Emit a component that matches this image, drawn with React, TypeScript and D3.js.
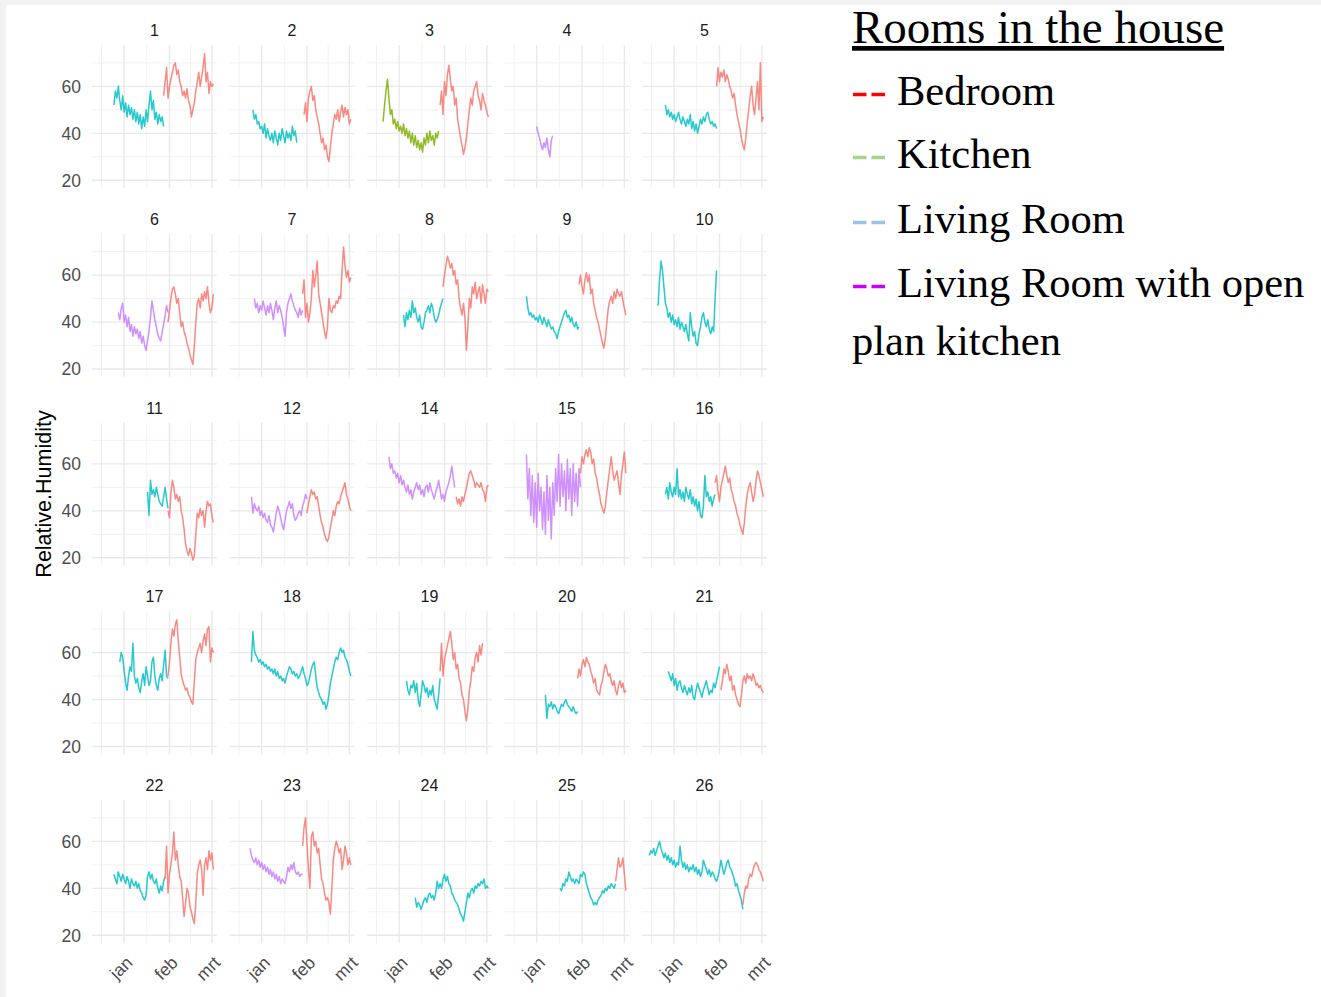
import React from "react";
import * as d3 from "d3";

// ---------- categories / labels ----------
const panelIds = ["1","2","3","4","5","6","7","8","9","10","11","12","14","15","16","17","18","19","20","21","22","23","24","25","26"];
const rooms = ["Bedroom", "Kitchen", "Living Room", "Living Room with open plan kitchen"];
const roomColors = ["#F8766D", "#7CAE00", "#00BFC4", "#C77CFF"];
const xTickLabels = ["jan", "feb", "mrt"];
const xTickDates = ["2020-01-01", "2020-02-01", "2020-03-01"];
const xMinorDates = ["2019-12-16T12:00", "2020-01-16T12:00", "2020-02-15T12:00"];
const xDomain = ["2019-12-10", "2020-03-04T12:00"];
const yTicks = [20, 40, 60];
const yMinorTicks = [30, 50, 70];
const yDomain = [16.6, 77.6];
const yTitle = "Relative.Humidity";
const legendTitle = "Rooms in the house";
const legendLines = ["Bedroom", "Kitchen", "Living Room", "Living Room with open"];
const legendWrap = "plan kitchen";
const legendColors = ["#ff0000", "#a9d18e", "#9dc3e6", "#cc00ff"];

// ---------- daily relative humidity series ----------
const p1LR = [52,58,55,60,54,50,56,49,53,47,52,48,51,46,50,45,49,44,48,42,47,43,50,45,52,58,50,54,46,49,44,48,45,47,43];
const p1BR = [56,62,68,55,60,63,66,69,70,65,67,62,60,56,58,55,59,54,52,47,50,53,58,62,66,60,64,68,74,62,66,57,62,60,61];
const p2LR = [50,46,48,44,45,42,43,40,44,38,42,39,37,40,36,41,38,35,40,37,42,39,36,41,38,40,37,43,39,41,36];
const p2BR = [48,53,45,55,58,60,54,56,50,47,44,40,36,38,33,35,30,28,34,40,44,48,46,50,45,49,52,47,51,48,50,44,46];
const p3K = [45,52,58,63,55,48,50,44,46,42,45,41,43,40,44,39,42,38,41,36,40,35,39,34,37,33,36,32,38,35,40,36,41,37,39,35,40,38,41];
const p3BR = [52,58,48,62,56,65,69,63,58,60,52,55,46,42,38,35,31,34,38,44,50,55,52,58,60,62,56,54,50,57,54,52,49,47];
const p4LRO = [43,40,38,35,33,36,34,38,33,30,37,39];
const p5LR = [52,48,50,47,49,46,48,45,47,49,46,44,47,45,43,46,44,48,42,45,41,44,40,43,46,44,47,45,48,49,46,44,45,43,44,42];
const p5BR = [60,68,62,66,64,67,62,65,63,60,58,55,57,52,48,45,42,38,35,33,38,45,50,56,60,52,48,55,62,50,70,45,47];
const p6LRO = [44,41,46,48,40,43,38,42,36,39,34,38,35,37,33,36,31,34,30,28,32,36,42,49,45,41,38,35,33,32,36,39,43,47,44];
const p6BR = [40,45,50,54,55,52,48,50,44,38,40,36,34,31,29,26,24,22,30,40,48,50,46,52,49,53,50,55,48,44,46,52];
const p7LRO = [50,46,48,44,47,45,49,46,43,47,44,48,45,41,46,49,44,47,45,42,38,34,44,48,50,52,49,47,45,44,42,46,43,45];
const p7BR = [52,58,42,48,40,44,50,62,55,60,66,52,48,44,40,36,33,38,50,45,44,47,46,49,48,51,50,62,72,64,59,62,57,59];
const p8LR = [43,38,44,41,45,42,49,44,46,42,40,43,38,37,40,44,45,47,44,48,46,42,40,41,43,46,48,50];
const p8BR = [55,60,64,68,66,63,65,60,62,56,58,50,46,43,48,42,28,38,50,46,55,52,57,50,53,55,48,56,52,48,54,53];
const p9LR = [51,46,43,44,42,43,41,42,40,43,41,39,42,40,38,41,39,37,38,36,35,33,36,38,40,42,44,45,42,43,40,42,39,38,40,37,38];
const p9BR = [56,60,55,52,58,61,57,60,52,54,48,45,42,40,37,34,31,29,33,40,46,49,51,48,53,50,54,52,51,53,49,46,43];
const p10LR = [47,58,66,62,55,48,46,42,44,40,43,39,41,38,42,37,40,38,36,39,35,32,44,38,34,36,31,30,35,38,42,44,40,38,41,37,35,38,36,50,62];
const p11LR = [48,38,53,47,49,46,50,47,44,43,42,46,50,45,41];
const p11BR = [40,37,48,53,50,45,47,44,46,40,37,32,26,23,21,24,22,19,21,30,39,37,41,38,40,33,40,44,42,43,38,35];
const p12LRO = [46,39,43,41,40,42,38,40,37,39,36,35,38,34,33,31,35,39,42,40,37,34,32,36,40,42,44,41,43,38,36,37,39,40,38,42,44,47,45];
const p12BR = [39,43,46,49,47,48,45,46,42,38,35,33,30,28,27,29,33,36,40,38,42,44,43,46,48,50,52,47,45,42,40];
const p14LRO = [63,58,60,56,57,54,56,52,55,51,53,50,48,51,47,49,45,48,50,52,49,51,47,49,46,50,51,48,52,49,47,45,48,50,53,49,45,47,44,48,50,52,55,59,54,50];
const p14BR = [46,43,45,42,46,44,47,50,53,56,57,55,53,50,52,51,50,52,49,48,44,50,51];
const p15LRO = [64,45,58,38,55,35,52,33,56,40,50,32,48,30,55,36,50,28,52,38,58,44,64,42,60,46,57,40,62,45,58,38,60,44,56,42,58,50];
const p15BR = [56,63,60,64,66,63,67,65,60,62,56,54,50,47,43,41,39,42,48,53,58,63,57,53,55,57,52,47,55,60,65,56];
const p16LR = [47,50,45,52,48,46,50,47,58,46,49,45,48,44,50,47,45,49,43,46,42,45,40,44,38,37,42,55,46,48,44,46,42,45,47];
const p16BR = [52,55,48,44,50,53,56,59,55,52,54,49,47,44,42,39,37,34,32,30,35,42,47,50,52,48,44,47,53,57,55,52,49,46];
const p17LR = [56,60,58,52,47,44,50,54,52,64,50,47,49,45,43,48,51,46,54,50,46,48,56,58,50,46,44,49,51,48,55,61,50,49];
const p17BR = [50,56,64,70,67,72,74,65,58,51,48,46,44,45,42,41,39,38,48,57,60,62,64,60,65,68,63,70,71,56,62,60];
const p18LR = [56,69,61,59,58,56,57,55,56,54,55,53,54,52,53,51,53,50,52,49,50,48,49,47,50,52,54,53,51,52,50,51,49,50,52,54,51,49,46,47,50,53,55,56,50,45,43,41,40,38,39,36,38,42,47,50,53,56,58,57,60,62,60,61,58,57,55,52,50];
const p19LR = [48,44,42,46,45,48,43,47,40,37,42,48,46,43,45,41,44,42,46,40,38,36,42,49];
const p19BR = [52,64,50,57,60,63,66,69,64,57,60,53,55,49,47,42,40,35,31,36,44,48,54,52,58,60,56,63,59,64];
const p20LR = [42,32,38,37,39,36,38,37,35,34,36,38,37,39,40,38,37,36,35,37,35,34,35];
const p20BR = [49,53,50,55,57,54,58,56,55,52,50,47,49,44,43,42,46,48,52,55,53,50,51,48,46,48,44,42,46,48,45,47,43,44];
const p21LR = [52,50,48,51,46,49,44,47,48,45,43,46,44,42,45,43,46,41,40,44,47,45,43,41,44,46,48,45,42,44,43,47,45,48,51,54];
const p21BR = [44,48,53,51,55,52,48,50,44,46,42,40,38,37,42,48,50,47,51,49,50,48,51,49,46,47,45,46,44,43];
const p22LR = [46,44,42,47,45,43,46,44,42,45,43,40,44,42,41,43,40,42,39,38,36,35,37,45,47,44,46,43,42,44,40,38,41,39,43,45];
const p22BR = [44,58,38,46,50,55,64,52,56,50,45,43,36,28,34,40,38,32,30,27,25,34,46,50,52,48,37,50,53,48,56,52,55,48];
const p23LRO = [57,54,52,51,53,50,52,49,51,48,50,47,49,46,48,45,47,44,46,43,45,42,44,43,42,45,49,47,50,48,51,47,46,47,45,46,46];
const p23BR = [58,66,70,59,48,40,62,64,58,60,55,57,50,44,42,38,35,36,34,29,40,52,57,60,58,55,57,48,52,58,55,50,53,50];
const p24LR = [36,32,34,33,31,33,35,36,34,37,38,36,37,35,38,43,40,42,40,44,46,43,45,42,41,38,37,35,34,33,31,29,28,26,30,34,38,36,39,40,38,41,40,42,41,43,42,44,40,41,40];
const p25LR = [40,39,42,41,44,43,47,45,43,44,42,44,43,42,46,45,47,46,42,40,38,36,35,33,34,33,35,36,37,39,38,40,39,41,40,42,41,40,42];
const p25BR = [43,48,53,49,50,53,46,39];
const p26LR = [54,56,55,57,54,56,58,60,57,55,53,55,52,54,51,53,50,52,49,51,50,58,52,49,51,48,50,47,49,48,50,47,49,46,48,45,47,52,50,48,46,48,45,47,46,44,43,45,48,52,49,46,48,51,52,49,48,46,44,41,42,39,37,35,31];
const p26BR = [33,38,41,40,44,46,45,48,50,51,50,48,47,45,43];

// table of series (panel, room index, first day of the daily values)
const segments: { panel: string; room: number; start: string; values: number[] }[] = [
  { panel: "1", room: 2, start: "2019-12-25", values: p1LR },
  { panel: "1", room: 0, start: "2020-01-28", values: p1BR },
  { panel: "2", room: 2, start: "2019-12-26", values: p2LR },
  { panel: "2", room: 0, start: "2020-01-30", values: p2BR },
  { panel: "3", room: 1, start: "2019-12-21", values: p3K },
  { panel: "3", room: 0, start: "2020-01-29", values: p3BR },
  { panel: "4", room: 3, start: "2020-01-01", values: p4LRO },
  { panel: "5", room: 2, start: "2019-12-26", values: p5LR },
  { panel: "5", room: 0, start: "2020-01-30", values: p5BR },
  { panel: "6", room: 3, start: "2019-12-28", values: p6LRO },
  { panel: "6", room: 0, start: "2020-01-31", values: p6BR },
  { panel: "7", room: 3, start: "2019-12-27", values: p7LRO },
  { panel: "7", room: 0, start: "2020-01-29", values: p7BR },
  { panel: "8", room: 2, start: "2020-01-04", values: p8LR },
  { panel: "8", room: 0, start: "2020-01-31", values: p8BR },
  { panel: "9", room: 2, start: "2019-12-25", values: p9LR },
  { panel: "9", room: 0, start: "2020-01-30", values: p9BR },
  { panel: "10", room: 2, start: "2019-12-21", values: p10LR },
  { panel: "11", room: 2, start: "2020-01-17", values: p11LR },
  { panel: "11", room: 0, start: "2020-01-31", values: p11BR },
  { panel: "12", room: 3, start: "2019-12-25", values: p12LRO },
  { panel: "12", room: 0, start: "2020-02-01", values: p12BR },
  { panel: "14", room: 3, start: "2019-12-25", values: p14LRO },
  { panel: "14", room: 0, start: "2020-02-09", values: p14BR },
  { panel: "15", room: 3, start: "2019-12-25", values: p15LRO },
  { panel: "15", room: 0, start: "2020-01-31", values: p15BR },
  { panel: "16", room: 2, start: "2019-12-26", values: p16LR },
  { panel: "16", room: 0, start: "2020-01-29", values: p16BR },
  { panel: "17", room: 2, start: "2019-12-29", values: p17LR },
  { panel: "17", room: 0, start: "2020-01-31", values: p17BR },
  { panel: "18", room: 2, start: "2019-12-25", values: p18LR },
  { panel: "19", room: 2, start: "2020-01-06", values: p19LR },
  { panel: "19", room: 0, start: "2020-01-29", values: p19BR },
  { panel: "20", room: 2, start: "2020-01-07", values: p20LR },
  { panel: "20", room: 0, start: "2020-01-29", values: p20BR },
  { panel: "21", room: 2, start: "2019-12-28", values: p21LR },
  { panel: "21", room: 0, start: "2020-02-02", values: p21BR },
  { panel: "22", room: 2, start: "2019-12-25", values: p22LR },
  { panel: "22", room: 0, start: "2020-01-29", values: p22BR },
  { panel: "23", room: 3, start: "2019-12-24", values: p23LRO },
  { panel: "23", room: 0, start: "2020-01-29", values: p23BR },
  { panel: "24", room: 2, start: "2020-01-12", values: p24LR },
  { panel: "25", room: 2, start: "2020-01-17", values: p25LR },
  { panel: "25", room: 0, start: "2020-02-24", values: p25BR },
  { panel: "26", room: 2, start: "2019-12-15", values: p26LR },
  { panel: "26", room: 0, start: "2020-02-17", values: p26BR },
];

// ---------- layout ----------
const W = 1321, H = 997;
const PX0 = 92, PSTEPX = 137.5, PW = 125;
const PY0 = 45, PSTEPY = 188.75, PH = 143.3;
const NCOL = 5;
const SANS = "'Liberation Sans', Arial, Helvetica, sans-serif";
const SERIF = "'Liberation Serif', 'Times New Roman', serif";
const DAY = 86400000;

const parseDate = (s: string) => new Date(s.length === 10 ? s + "T00:00:00Z" : s + ":00Z");

export default function App() {
  const x = d3.scaleUtc().domain(xDomain.map(parseDate)).range([0, PW]);
  const y = d3.scaleLinear().domain(yDomain).range([PH, 0]);
  const nRows = Math.ceil(panelIds.length / NCOL);

  return (
    <svg width={W} height={H} style={{ position: "absolute", left: 0, top: 0, background: "#f2f2f2" }}>
      <rect x={6} y={5} width={W - 6} height={H - 5} fill="#ffffff" />
      {panelIds.map((pid, k) => {
        const col = k % NCOL;
        const row = Math.floor(k / NCOL);
        const tx = PX0 + col * PSTEPX;
        const ty = PY0 + row * PSTEPY;
        const segs = segments.filter((s) => s.panel === pid);
        return (
          <g key={pid} transform={`translate(${tx},${ty})`}>
            {yMinorTicks.map((v) => (
              <line key={"ym" + v} x1={0} x2={PW} y1={y(v)} y2={y(v)} stroke="#efefef" strokeWidth={0.9} />
            ))}
            {xMinorDates.map((d) => (
              <line key={"xm" + d} x1={x(parseDate(d))} x2={x(parseDate(d))} y1={0} y2={PH} stroke="#efefef" strokeWidth={0.9} />
            ))}
            {yTicks.map((v) => (
              <line key={"y" + v} x1={0} x2={PW} y1={y(v)} y2={y(v)} stroke="#e9e9e9" strokeWidth={1.4} />
            ))}
            {xTickDates.map((d) => (
              <line key={"x" + d} x1={x(parseDate(d))} x2={x(parseDate(d))} y1={0} y2={PH} stroke="#e9e9e9" strokeWidth={1.4} />
            ))}
            {segs.map((s, i) => {
              const t0 = parseDate(s.start).getTime();
              const line = d3
                .line<number>()
                .x((_, j) => x(new Date(t0 + j * DAY)))
                .y((v) => y(v));
              return (
                <path
                  key={i}
                  d={line(s.values) || ""}
                  fill="none"
                  stroke={roomColors[s.room]}
                  strokeWidth={1.5}
                  strokeOpacity={0.85}
                  strokeLinejoin="round"
                />
              );
            })}
            <text x={PW / 2} y={-9} textAnchor="middle" fontFamily={SANS} fontSize={16} fill="#1a1a1a">
              {pid}
            </text>
            {col === 0 &&
              yTicks.map((v) => (
                <text key={"yl" + v} x={-11} y={y(v)} dy="0.36em" textAnchor="end" fontFamily={SANS} fontSize={17.5} fill="#4d4d4d">
                  {v}
                </text>
              ))}
            {row === nRows - 1 &&
              xTickDates.map((d, i) => (
                <text
                  key={"xl" + d}
                  transform={`translate(${x(parseDate(d)) + 5},${PH + 16}) rotate(-45)`}
                  dy="0.36em"
                  textAnchor="end"
                  fontFamily={SANS}
                  fontSize={17.5}
                  fill="#4d4d4d"
                >
                  {xTickLabels[i]}
                </text>
              ))}
          </g>
        );
      })}
      <text
        transform={`translate(51,494) rotate(-90)`}
        textAnchor="middle"
        fontFamily={SANS}
        fontSize={21.5}
        fill="#000000"
      >
        {yTitle}
      </text>
      {/* legend */}
      <g fontFamily={SERIF} fill="#000000">
        <text x={852} y={43} fontSize={47} style={{ textDecoration: "underline" }}>
          {legendTitle}
        </text>
        {legendLines.map((lab, i) => {
          const base = [105, 168, 233, 297][i];
          const dashY = base - 10.5;
          return (
            <g key={lab}>
              <rect x={853} y={dashY - 1.75} width={13.5} height={3.5} fill={legendColors[i]} />
              <rect x={871.5} y={dashY - 1.75} width={13.5} height={3.5} fill={legendColors[i]} />
              <text x={897} y={base} fontSize={42.5}>
                {lab}
              </text>
            </g>
          );
        })}
        <text x={852} y={355} fontSize={42.5}>
          {legendWrap}
        </text>
      </g>
      <desc>{rooms.join(", ")}</desc>
    </svg>
  );
}
